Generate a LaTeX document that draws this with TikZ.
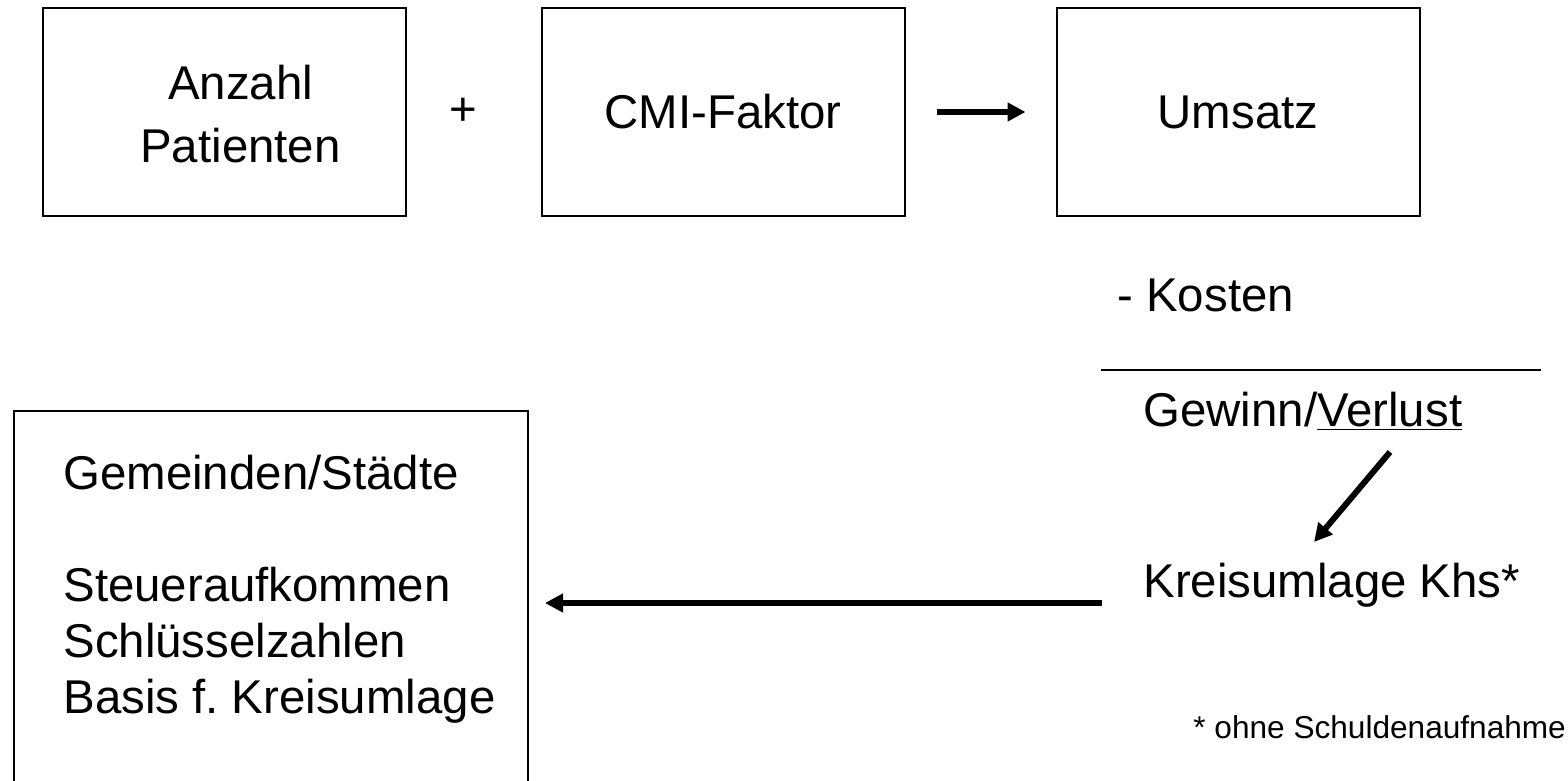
\documentclass[tikz,border=0pt]{standalone}
\usepackage{fontspec}
\setmainfont{Liberation Sans}
\usetikzlibrary{arrows.meta}

\begin{document}
\begin{tikzpicture}[x=0.5pt,y=-0.5pt,
    box/.style={draw,line width=1pt,minimum width=181.5pt,minimum height=104pt,align=center,inner sep=0pt},
    bigtext/.style={font=\fontsize{23.7}{28}\selectfont,inner sep=0pt},
    fatarrow/.style={line width=3pt,-{Triangle[length=9pt,width=9pt]}}]
    \useasboundingbox (0,0) rectangle (1568,781);
    \clip (0,0) rectangle (1568,781);

    % obere Reihe
    \node[box] (patienten) at (224.5,112) {};
    \node[font=\fontsize{23.7}{31.5}\selectfont,align=center,inner sep=0pt] (patiententext) at (240.5,114) {Anzahl\\Patienten};
    \node[box,bigtext] (cmi) at (723,112) {CMI-Faktor};
    \node[box,bigtext] (umsatz) at (1238,112) {Umsatz};
    \node[bigtext] (plus) at (463,112) {+};
    \draw[fatarrow,shorten <=15.5pt,shorten >=15pt] (cmi) -- (umsatz);

    % Rechnung rechts
    \node[bigtext,anchor=base west] (kosten) at (1117,311) {- Kosten};
    \coordinate (strich0) at (1101,370);
    \coordinate (strich1) at (1541,370);
    \draw[line width=1pt] (strich0) -- (strich1);
    \node[bigtext,anchor=base west] (gewinn) at (1143,426) {Gewinn/\underline{Verlust}};
    \coordinate (pfeil0) at (1390,452);
    \coordinate (pfeil1) at (1314,542);
    \draw[fatarrow] (pfeil0) -- (pfeil1);
    \node[bigtext,anchor=base west] (kreis) at (1143,597) {Kreisumlage Khs*};
    \node[font=\fontsize{15.8}{19}\selectfont,inner sep=0pt,anchor=base west] (fussnote) at (1193,738) {* ohne Schuldenaufnahme};

    % Gemeinden links
    \node[draw,line width=1pt,anchor=north west,minimum width=257pt,minimum height=200pt] (gemeinden) at (13,410) {};
    \node[bigtext,anchor=base west,align=left] (gemeindentext) at (63,713) {Gemeinden/Städte\\[28pt]Steueraufkommen\\Schlüsselzahlen\\Basis f.\ Kreisumlage};
    \coordinate (abgabe) at (1102,603);
    \draw[fatarrow,shorten >=8pt] (abgabe) -- (gemeinden.east |- abgabe);
\end{tikzpicture}
\end{document}
